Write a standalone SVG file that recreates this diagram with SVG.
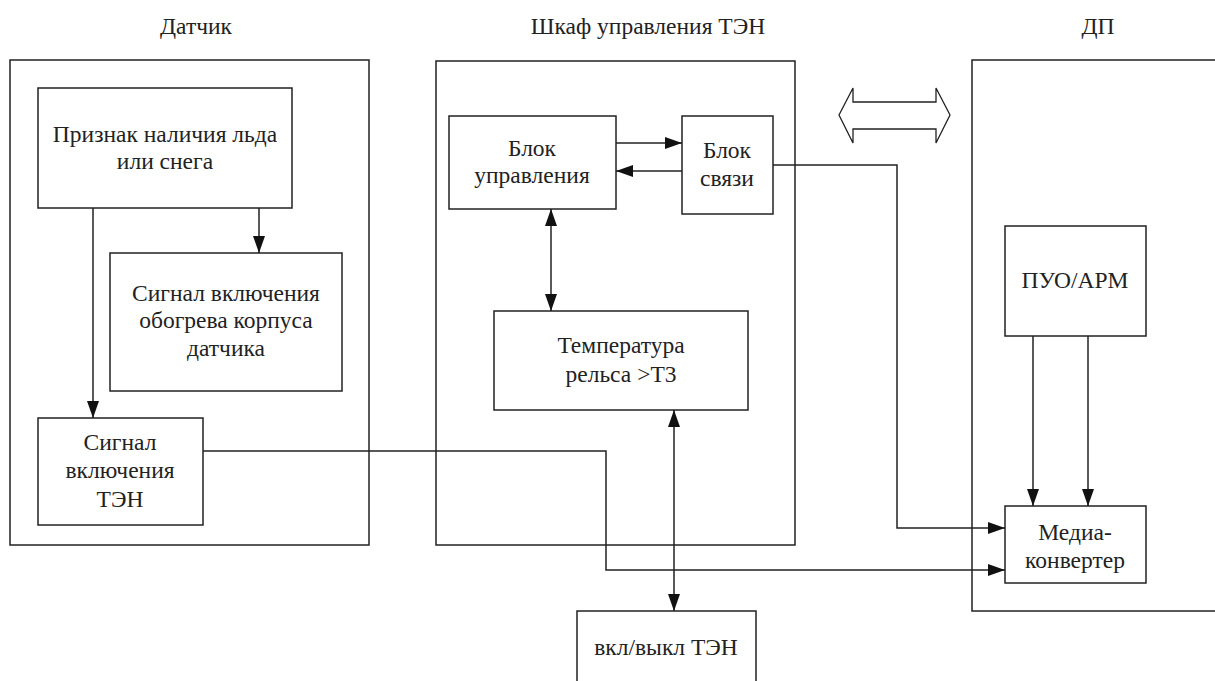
<svg xmlns="http://www.w3.org/2000/svg" width="1215" height="681" viewBox="0 0 1215 681">
<style>
.box{fill:none;stroke:#222;stroke-width:1.5}
.ln{fill:none;stroke:#222;stroke-width:1.5}
text{font-family:'Liberation Serif','DejaVu Serif',serif;fill:#222;text-anchor:middle}
.t{font-size:23.5px}
.ttl{font-size:23.5px}
</style>
<defs>
<marker id="ah" markerUnits="userSpaceOnUse" markerWidth="17" markerHeight="12" refX="17" refY="6" orient="auto-start-reverse" viewBox="0 0 17 12">
<path d="M0,0 L17,6 L0,12 z" fill="#111"/>
</marker>
</defs>
<rect width="1215" height="681" fill="#fff"/>
<g id="titles">
<text class="ttl" x="196" y="34">Датчик</text>
<text class="ttl" x="648" y="34">Шкаф управления ТЭН</text>
<text class="ttl" x="1098" y="34">ДП</text>
</g>
<g id="sensor-group"><rect class="box" x="10" y="60" width="359" height="485"/></g>
<g id="cabinet-group"><rect class="box" x="436" y="61" width="359" height="484"/></g>
<g id="dp-group"><rect class="box" x="972" y="60" width="260" height="551"/></g>
<g id="n-priznak"><rect class="box" x="38" y="88" width="254" height="120"/>
<text class="t" x="165" y="142">Признак наличия льда</text><text class="t" x="165" y="169">или снега</text></g>
<g id="n-obogrev"><rect class="box" x="110" y="253" width="232" height="138"/>
<text class="t" x="226" y="301">Сигнал включения</text><text class="t" x="226" y="328">обогрева корпуса</text><text class="t" x="226" y="356">датчика</text></g>
<g id="n-signal-ten"><rect class="box" x="38" y="418" width="165" height="107"/>
<text class="t" x="120" y="450">Сигнал</text><text class="t" x="120" y="478">включения</text><text class="t" x="120" y="507">ТЭН</text></g>
<g id="n-blok-upr"><rect class="box" x="449" y="116" width="167" height="93"/>
<text class="t" x="532" y="156">Блок</text><text class="t" x="532" y="183">управления</text></g>
<g id="n-blok-sv"><rect class="box" x="682" y="116" width="91" height="98"/>
<text class="t" x="727" y="158">Блок</text><text class="t" x="727" y="186">связи</text></g>
<g id="n-temp"><rect class="box" x="494" y="311" width="254" height="99"/>
<text class="t" x="621" y="353">Температура</text><text class="t" x="621" y="382">рельса &gt;Т3</text></g>
<g id="n-vkl"><rect class="box" x="577" y="611" width="179" height="80"/>
<text class="t" x="666" y="655">вкл/выкл ТЭН</text></g>
<g id="n-puo"><rect class="box" x="1005" y="226" width="141" height="110"/>
<text class="t" x="1075" y="288">ПУО/АРМ</text></g>
<g id="n-media"><rect class="box" x="1005" y="506" width="141" height="77"/>
<text class="t" x="1075" y="540">Медиа-</text><text class="t" x="1075" y="568">конвертер</text></g>
<g id="n-exchange"><polygon points="839,115 853,88 853,102 936,102 936,88 950,115 936,143 936,129 853,129 853,143" fill="none" stroke="#222" stroke-width="1.3"/></g>
<g id="connectors">
<path class="ln" d="M93,208 V418" marker-end="url(#ah)"/>
<path class="ln" d="M259,208 V253" marker-end="url(#ah)"/>
<path class="ln" d="M203,451 H606 V570 H1005" marker-end="url(#ah)"/>
<path class="ln" d="M616,143 H682" marker-end="url(#ah)"/>
<path class="ln" d="M682,171 H616" marker-end="url(#ah)"/>
<path class="ln" d="M551,209 V311" marker-start="url(#ah)" marker-end="url(#ah)"/>
<path class="ln" d="M674,410 V611" marker-start="url(#ah)" marker-end="url(#ah)"/>
<path class="ln" d="M773,165 H897 V528 H1005" marker-end="url(#ah)"/>
<path class="ln" d="M1033,336 V506" marker-end="url(#ah)"/>
<path class="ln" d="M1088,336 V506" marker-end="url(#ah)"/>
</g>
</svg>
